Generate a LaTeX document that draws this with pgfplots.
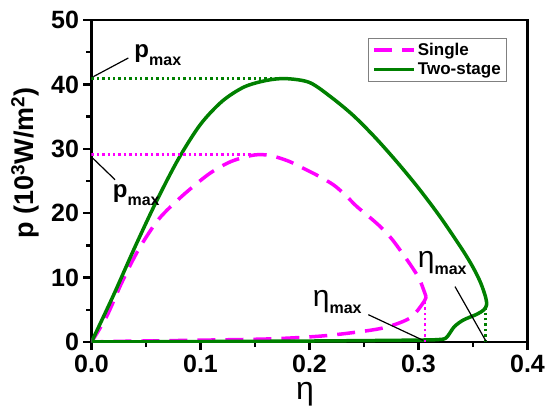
\documentclass[border=0pt]{standalone}
\usepackage{fontspec}
\setmainfont{Liberation Sans}
\usepackage{pgfplots}
\pgfplotsset{compat=1.18}
\definecolor{mag}{RGB}{255,0,255}
\definecolor{grn}{RGB}{0,128,0}
\newcommand{\pmax}{{\fontsize{24}{24}\selectfont\bfseries p\raisebox{-8pt}{\fontsize{16}{16}\selectfont max}}}
\newcommand{\etamax}{{\fontsize{30}{30}\selectfont η\raisebox{-7pt}{\fontsize{16}{16}\selectfont\bfseries max}}}
\begin{document}
\begin{tikzpicture}
\begin{axis}[
  scale only axis, width=436pt, height=322pt,
  xmin=0, xmax=0.4, ymin=0, ymax=50,
  line width=2.5pt,
  xtick={0,0.1,0.2,0.3,0.4}, xticklabels={0.0,0.1,0.2,0.3,0.4},
  minor xtick={0.05,0.15,0.25,0.35},
  ytick={0,10,20,30,40,50}, minor ytick={5,15,25,35,45},
  xtick pos=bottom, ytick pos=left, tick align=outside,
  major tick length=8pt, minor tick length=5pt,
  tick style={black, line width=2.5pt},
  axis line style={line width=2.5pt},
  /pgf/number format/assume math mode=true,
  tick label style={font=\fontsize{25}{25}\selectfont\bfseries},
  xlabel={η}, ylabel={p (10\textsuperscript{3}W/m\textsuperscript{2})},
  xlabel style={font=\fontsize{32}{32}\selectfont, at={(axis description cs:0.49,-0.163)}, anchor=center},
  ylabel style={font=\fontsize{27}{27}\selectfont\bfseries, at={(axis description cs:-0.1525,0.556)}, anchor=center},
  legend style={at={(rel axis cs:0.953,0.944)}, anchor=north east, draw=gray, line width=0.6pt,
    font=\fontsize{17}{17}\selectfont\bfseries, row sep=2pt, inner xsep=4pt, inner ysep=3pt},
  legend cell align=left,
  legend image code/.code={\draw[#1] (0pt,0pt) -- (40pt,0pt);},
]
% Single (upper branch)
\addplot[mag, line width=3.5pt, dash pattern=on 18pt off 10pt, smooth, tension=0.5] coordinates {
(0,0) (0.014,4.0) (0.0277,9.2) (0.043,14.3) (0.0613,19.0) (0.0827,22.6) (0.107,26.0)
(0.125,27.8) (0.138,28.6) (0.15,29.05) (0.16,29.05) (0.17,28.7) (0.182,28.0) (0.194,27.0)
(0.208,25.8) (0.222,24.4) (0.233,22.8) (0.243,21.1) (0.255,19.4) (0.265,17.9) (0.275,16.1)
(0.283,14.3) (0.293,11.9) (0.301,9.7) (0.307,7.0)};
\addlegendentry{Single}
% Single (lower branch)
\addplot[mag, line width=3.5pt, dash pattern=on 18pt off 10pt, smooth, tension=0.5, forget plot] coordinates {
(0.307,7.0) (0.304,6.0) (0.292,3.7) (0.268,2.2) (0.237,1.4) (0.2066,0.87) (0.161,0.47)
(0.086,0.25) (0.025,0.1) (0,0)};
% Two-stage
\addplot[grn, line width=3.5pt, smooth, tension=0.5] coordinates {
(0,0) (0.02,7.2) (0.04,14.8) (0.06,22.0) (0.08,28.5) (0.10,33.8) (0.12,37.4) (0.14,39.6)
(0.16,40.6) (0.178,40.9) (0.20,40.3) (0.22,38.0) (0.24,35.2) (0.26,31.8) (0.28,28.0)
(0.30,23.9) (0.32,19.4) (0.34,14.4) (0.35,11.6) (0.357,9.2) (0.3615,7.0) (0.3625,5.8)
(0.360,5.0) (0.3534,4.3) (0.341,3.4) (0.333,2.4) (0.328,1.2) (0.325,0.6) (0.32,0.4)
(0.30,0.3) (0.2,0.15) (0.1,0.07) (0,0)};
\addlegendentry{Two-stage}
% dotted guides
\addplot[mag, line width=2.6pt, dash pattern=on 2.4pt off 3pt, forget plot] coordinates {(0,29.1) (0.153,29.1)};
\addplot[mag, line width=2.6pt, dash pattern=on 2.4pt off 3pt, forget plot] coordinates {(0.306,0) (0.306,6.8)};
\addplot[grn, line width=2.6pt, dash pattern=on 2.4pt off 3pt, forget plot] coordinates {(0,40.9) (0.178,40.9)};
\addplot[grn, line width=2.6pt, dash pattern=on 2.4pt off 3pt, forget plot] coordinates {(0.3613,0) (0.3613,5.3)};
% annotation pointers
\addplot[black, line width=1.2pt, forget plot] coordinates {(0.0017,41.2) (0.0338,44.1)};
\addplot[black, line width=1.2pt, forget plot] coordinates {(0.0002,28.7) (0.0216,25.2)};
\addplot[black, line width=1.2pt, forget plot] coordinates {(0.3335,8.6) (0.362,0.1)};
\addplot[black, line width=1.2pt, forget plot] coordinates {(0.254,4.24) (0.3044,0.25)};
\node[anchor=base west, inner sep=0pt] at (axis cs:0.0383,44.2) {\pmax};
\node[anchor=base west, inner sep=0pt] at (axis cs:0.0185,22.5) {\pmax};
\node[anchor=base west, inner sep=0pt] at (axis cs:0.2983,11.54) {\etamax};
\node[anchor=base west, inner sep=0pt] at (axis cs:0.202,5.59) {\etamax};
\end{axis}
\pgfresetboundingbox
\path (current axis.south west) ++(-91.5pt,-70pt) rectangle ++(546pt,412pt);
\end{tikzpicture}
\end{document}
